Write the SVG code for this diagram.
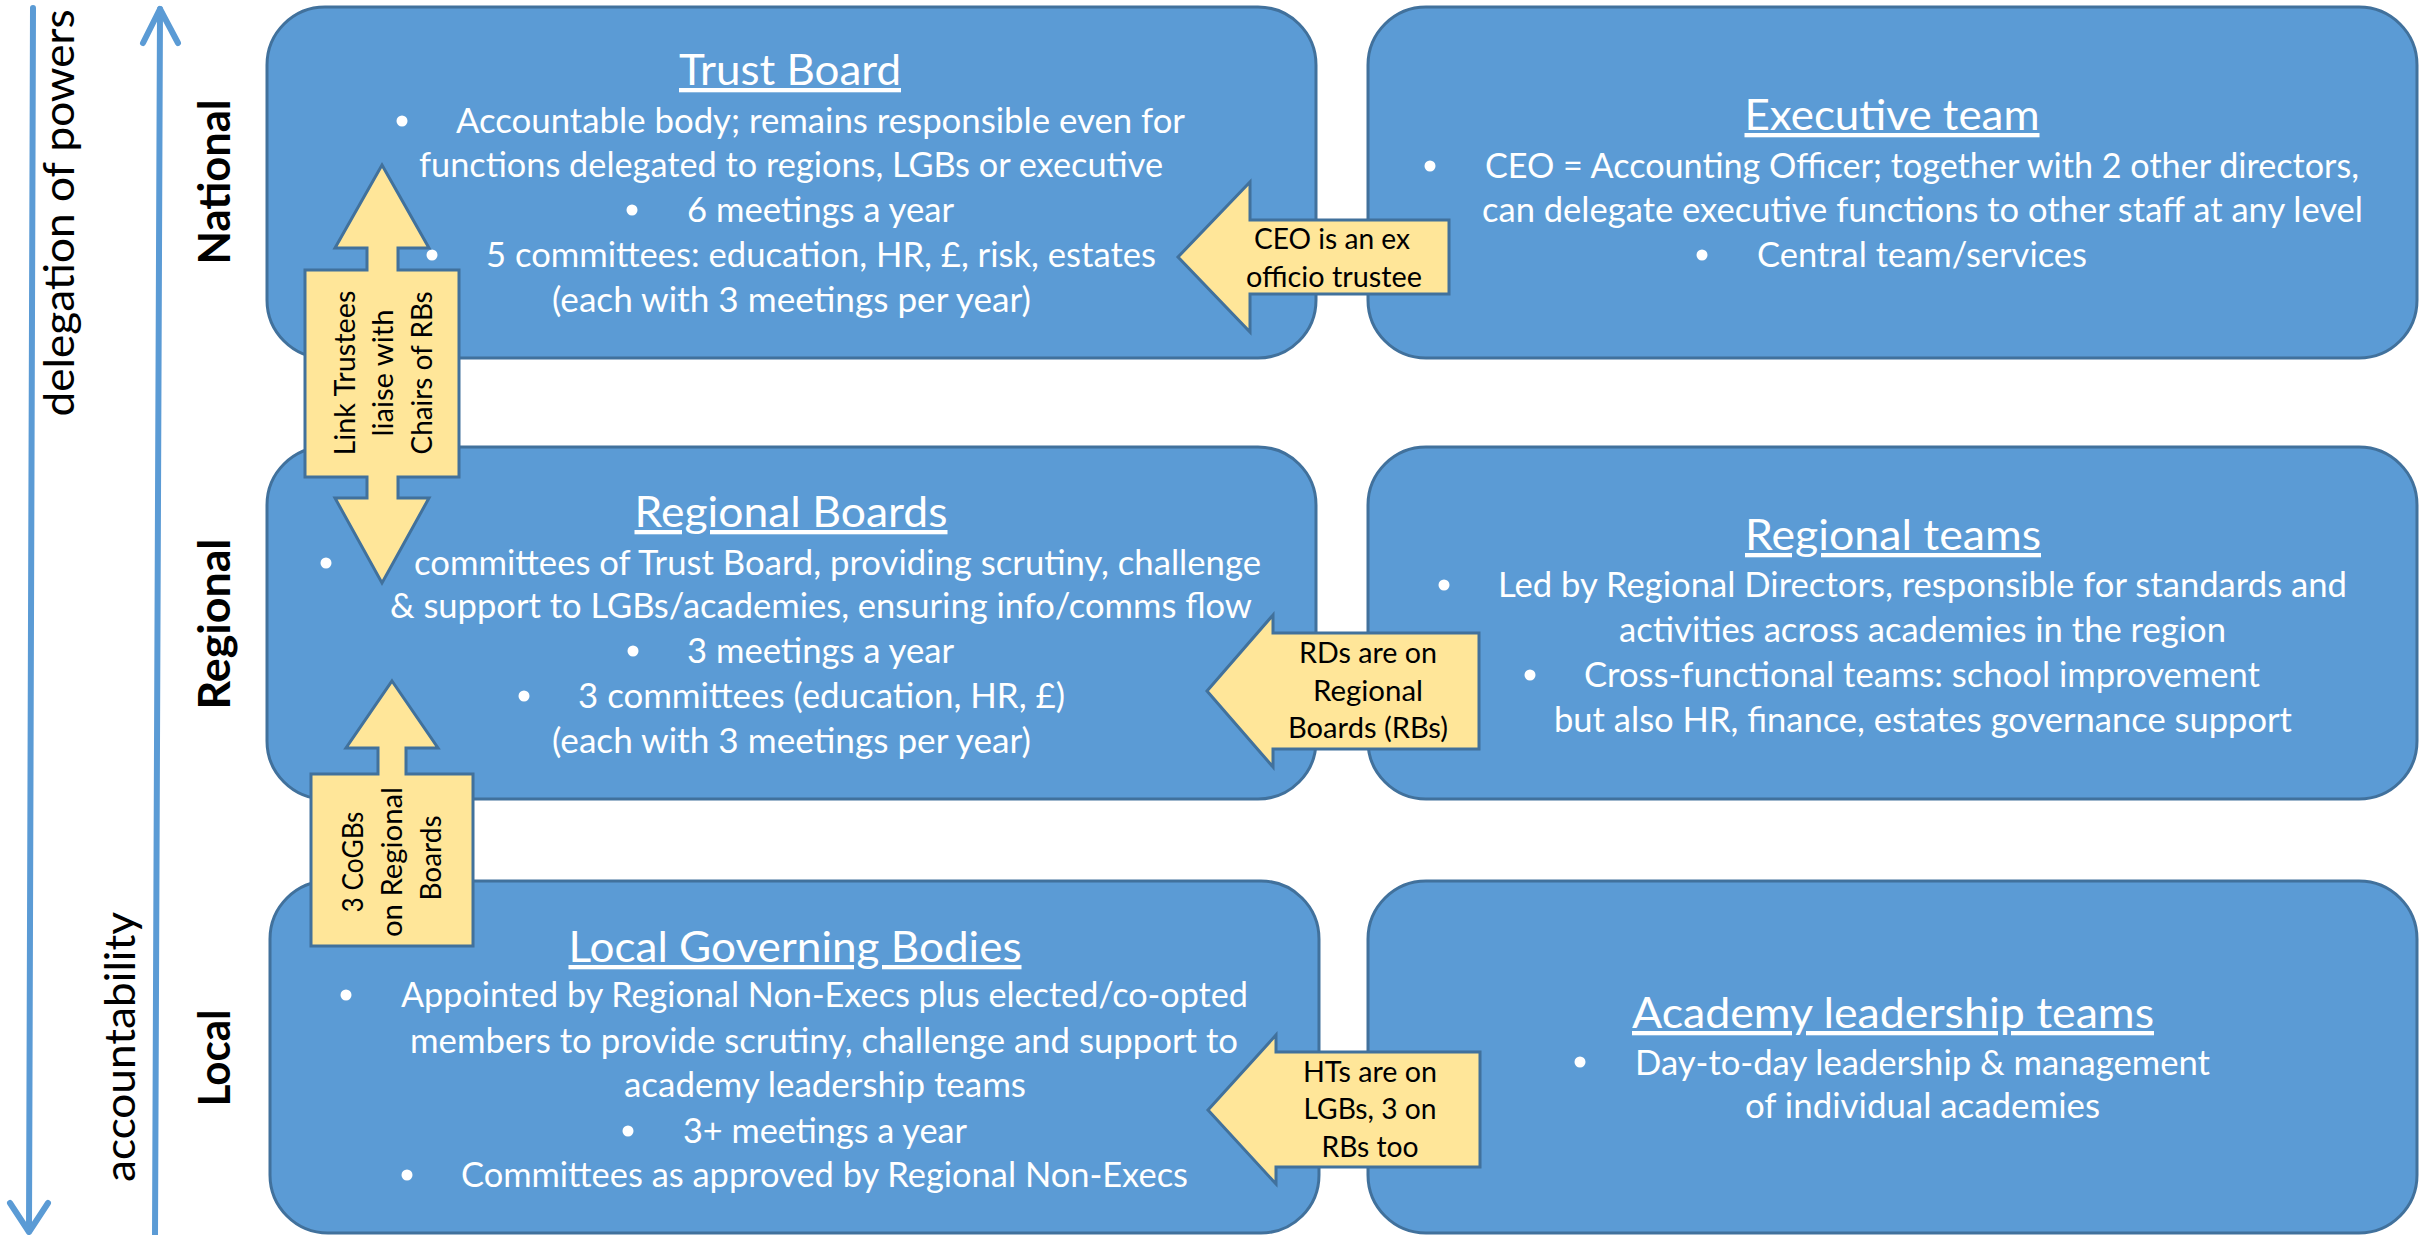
<svg xmlns="http://www.w3.org/2000/svg" width="2433" height="1235" viewBox="0 0 2433 1235">
<defs>
<style>
.box{fill:#5B9BD5;stroke:#41719C;stroke-width:3}
.call{fill:#FFE699;stroke:#41719C;stroke-width:3;stroke-linejoin:miter}
.t{font-family:Lato,"Liberation Sans",sans-serif;fill:#fff;font-size:34px}
.h{font-size:43px;text-decoration:underline;text-anchor:middle}
.c{font-family:Lato,"Liberation Sans",sans-serif;fill:#000;font-size:29.5px;text-anchor:middle}
.side{font-family:Lato,"Liberation Sans",sans-serif;fill:#000;font-size:43px;text-anchor:middle}
.lvl{font-weight:bold}
.b{fill:#fff}
.ax{stroke:#5B9BD5;stroke-width:6;fill:none;stroke-linecap:round;stroke-linejoin:round}
</style>
</defs>
<rect width="2433" height="1235" fill="#fff"/>

<g id="axes">
<path class="ax" d="M33,8 L29,1231"/>
<path class="ax" d="M10,1203 L29,1232 L48,1203"/>
<path class="ax" d="M160,9 L155,1235"/>
<path class="ax" d="M143,43 L160,9 L178,43"/>
<text class="side" transform="translate(74,213) rotate(-90)" textLength="407" lengthAdjust="spacingAndGlyphs">delegation of powers</text>
<text class="side" transform="translate(135,1047) rotate(-90)" textLength="270" lengthAdjust="spacingAndGlyphs">accountability</text>
<text class="side lvl" transform="translate(230,182) rotate(-90)" textLength="165" lengthAdjust="spacingAndGlyphs">National</text>
<text class="side lvl" transform="translate(230,624) rotate(-90)" textLength="171" lengthAdjust="spacingAndGlyphs">Regional</text>
<text class="side lvl" transform="translate(230,1058) rotate(-90)" textLength="97" lengthAdjust="spacingAndGlyphs">Local</text>
</g>

<g id="trust-board">
<rect class="box" x="267" y="7" width="1049" height="351" rx="58" ry="58"/>
<text class="t h" x="790" y="85" textLength="222" lengthAdjust="spacingAndGlyphs">Trust Board</text>
<circle class="b" cx="402" cy="121" r="5.5"/>
<text class="t" x="456" y="133" textLength="729" lengthAdjust="spacingAndGlyphs">Accountable body; remains responsible even for</text>
<text class="t" x="419" y="177" textLength="744" lengthAdjust="spacingAndGlyphs">functions delegated to regions, LGBs or executive</text>
<circle class="b" cx="632" cy="210" r="5.5"/>
<text class="t" x="687" y="222" textLength="267" lengthAdjust="spacingAndGlyphs">6 meetings a year</text>
<circle class="b" cx="432" cy="255" r="5.5"/>
<text class="t" x="486" y="267" textLength="670" lengthAdjust="spacingAndGlyphs">5 committees: education, HR, £, risk, estates</text>
<text class="t" x="552" y="312" textLength="479" lengthAdjust="spacingAndGlyphs">(each with 3 meetings per year)</text>
</g>

<g id="executive-team">
<rect class="box" x="1368" y="7" width="1049" height="351" rx="58" ry="58"/>
<text class="t h" x="1892" y="130" textLength="295" lengthAdjust="spacingAndGlyphs">Executive team</text>
<circle class="b" cx="1430" cy="166" r="5.5"/>
<text class="t" x="1485" y="178" textLength="874" lengthAdjust="spacingAndGlyphs">CEO = Accounting Officer; together with 2 other directors,</text>
<text class="t" x="1482" y="222" textLength="881" lengthAdjust="spacingAndGlyphs">can delegate executive functions to other staff at any level</text>
<circle class="b" cx="1702" cy="255" r="5.5"/>
<text class="t" x="1757" y="267" textLength="330" lengthAdjust="spacingAndGlyphs">Central team/services</text>
</g>

<g id="regional-boards">
<rect class="box" x="267" y="447" width="1049" height="352" rx="58" ry="58"/>
<text class="t h" x="791" y="527" textLength="313" lengthAdjust="spacingAndGlyphs">Regional Boards</text>
<circle class="b" cx="326" cy="563" r="5.5"/>
<text class="t" x="414" y="575" textLength="847" lengthAdjust="spacingAndGlyphs">committees of Trust Board, providing scrutiny, challenge</text>
<text class="t" x="390" y="618" textLength="862" lengthAdjust="spacingAndGlyphs">&amp; support to LGBs/academies, ensuring info/comms flow</text>
<circle class="b" cx="633" cy="651" r="5.5"/>
<text class="t" x="687" y="663" textLength="267" lengthAdjust="spacingAndGlyphs">3 meetings a year</text>
<circle class="b" cx="524" cy="696" r="5.5"/>
<text class="t" x="578" y="708" textLength="487" lengthAdjust="spacingAndGlyphs">3 committees (education, HR, £)</text>
<text class="t" x="552" y="753" textLength="479" lengthAdjust="spacingAndGlyphs">(each with 3 meetings per year)</text>
</g>

<g id="regional-teams">
<rect class="box" x="1368" y="447" width="1049" height="352" rx="58" ry="58"/>
<text class="t h" x="1893" y="550" textLength="296" lengthAdjust="spacingAndGlyphs">Regional teams</text>
<circle class="b" cx="1444" cy="585" r="5.5"/>
<text class="t" x="1498" y="597" textLength="849" lengthAdjust="spacingAndGlyphs">Led by Regional Directors, responsible for standards and</text>
<text class="t" x="1619" y="642" textLength="607" lengthAdjust="spacingAndGlyphs">activities across academies in the region</text>
<circle class="b" cx="1530" cy="675" r="5.5"/>
<text class="t" x="1584" y="687" textLength="676" lengthAdjust="spacingAndGlyphs">Cross-functional teams: school improvement</text>
<text class="t" x="1554" y="732" textLength="738" lengthAdjust="spacingAndGlyphs">but also HR, finance, estates governance support</text>
</g>

<g id="local-governing-bodies">
<rect class="box" x="270" y="881" width="1049" height="352" rx="58" ry="58"/>
<text class="t h" x="795" y="962" textLength="453" lengthAdjust="spacingAndGlyphs">Local Governing Bodies</text>
<circle class="b" cx="346" cy="995" r="5.5"/>
<text class="t" x="401" y="1007" textLength="847" lengthAdjust="spacingAndGlyphs">Appointed by Regional Non-Execs plus elected/co-opted</text>
<text class="t" x="410" y="1053" textLength="828" lengthAdjust="spacingAndGlyphs">members to provide scrutiny, challenge and support to</text>
<text class="t" x="624" y="1097" textLength="402" lengthAdjust="spacingAndGlyphs">academy leadership teams</text>
<circle class="b" cx="628" cy="1131" r="5.5"/>
<text class="t" x="683" y="1143" textLength="284" lengthAdjust="spacingAndGlyphs">3+ meetings a year</text>
<circle class="b" cx="407" cy="1175" r="5.5"/>
<text class="t" x="461" y="1187" textLength="727" lengthAdjust="spacingAndGlyphs">Committees as approved by Regional Non-Execs</text>
</g>

<g id="academy-leadership-teams">
<rect class="box" x="1368" y="881" width="1049" height="352" rx="58" ry="58"/>
<text class="t h" x="1893" y="1028" textLength="522" lengthAdjust="spacingAndGlyphs">Academy leadership teams</text>
<circle class="b" cx="1580" cy="1062" r="5.5"/>
<text class="t" x="1635" y="1075" textLength="575" lengthAdjust="spacingAndGlyphs">Day-to-day leadership &amp; management</text>
<text class="t" x="1745" y="1118" textLength="355" lengthAdjust="spacingAndGlyphs">of individual academies</text>
</g>

<g id="connectors">
<g id="link-trustees">
<polygon class="call" points="382,165 429,248 398,248 398,270 459,270 459,477 398,477 398,498 429,498 382,583 335,498 367,498 367,477 305,477 305,270 367,270 367,248 335,248"/>
<text class="c" transform="translate(355,373) rotate(-90)" textLength="165" lengthAdjust="spacingAndGlyphs">Link Trustees</text>
<text class="c" transform="translate(393,373) rotate(-90)" textLength="127" lengthAdjust="spacingAndGlyphs">liaise with</text>
<text class="c" transform="translate(432,373) rotate(-90)" textLength="163" lengthAdjust="spacingAndGlyphs">Chairs of RBs</text>
</g>
<g id="cogbs">
<polygon class="call" points="392,681 438,748 406,748 406,774 473,774 473,946 311,946 311,774 378,774 378,748 346,748"/>
<text class="c" transform="translate(363,862) rotate(-90)" textLength="101" lengthAdjust="spacingAndGlyphs">3 CoGBs</text>
<text class="c" transform="translate(402,862) rotate(-90)" textLength="150" lengthAdjust="spacingAndGlyphs">on Regional</text>
<text class="c" transform="translate(441,858) rotate(-90)" textLength="85" lengthAdjust="spacingAndGlyphs">Boards</text>
</g>
<g id="ceo-trustee">
<polygon class="call" points="1178,257 1250,182 1250,220 1449,220 1449,294 1250,294 1250,332"/>
<text class="c" x="1332" y="249" textLength="156" lengthAdjust="spacingAndGlyphs">CEO is an ex</text>
<text class="c" x="1334" y="287" textLength="176" lengthAdjust="spacingAndGlyphs">officio trustee</text>
</g>
<g id="rds-on-rbs">
<polygon class="call" points="1207,691 1273,615 1273,633 1479,633 1479,749 1273,749 1273,767"/>
<text class="c" x="1368" y="663" textLength="138" lengthAdjust="spacingAndGlyphs">RDs are on</text>
<text class="c" x="1368" y="701" textLength="110" lengthAdjust="spacingAndGlyphs">Regional</text>
<text class="c" x="1368" y="738" textLength="160" lengthAdjust="spacingAndGlyphs">Boards (RBs)</text>
</g>
<g id="hts-on-lgbs">
<polygon class="call" points="1208,1110 1276,1035 1276,1052 1480,1052 1480,1167 1276,1167 1276,1184"/>
<text class="c" x="1370" y="1082" textLength="134" lengthAdjust="spacingAndGlyphs">HTs are on</text>
<text class="c" x="1370" y="1119" textLength="133" lengthAdjust="spacingAndGlyphs">LGBs, 3 on</text>
<text class="c" x="1370" y="1157" textLength="97" lengthAdjust="spacingAndGlyphs">RBs too</text>
</g>
</g>
</svg>
